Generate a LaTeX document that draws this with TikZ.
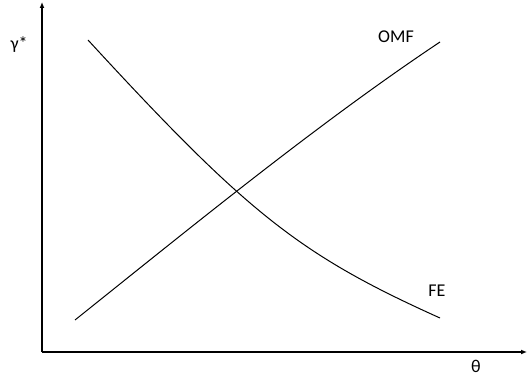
\documentclass[tikz,border=0pt]{standalone}
\usepackage{fontspec}
\setmainfont{Carlito}
\usetikzlibrary{arrows.meta}

\begin{document}
\begin{tikzpicture}[
  x=1pt,y=-1pt,
  axis/.style={line width=1.4pt,-{Latex[length=6pt,width=5pt]}},
  curve/.style={line width=1pt},
  lbl/.style={font=\fontsize{18}{20}\selectfont,inner sep=0pt}
]
\useasboundingbox (0,0) rectangle (527,379);
\coordinate (origin) at (42,352);
\coordinate (ytop) at (42,2);
\coordinate (xend) at (527,352);
\draw[axis] (origin) -- (ytop);
\draw[axis] (origin) -- (xend);
\node[lbl] (gamma) at (19,45) {γ*};
\node[lbl] (theta) at (476,366) {θ};
% curves
\coordinate (omfA) at (75,320);
\coordinate (omfB) at (440,42);
\coordinate (feA) at (88,40);
\coordinate (feB) at (440,318);
\draw[curve] (omfA) .. controls (195,224) and (320,122) .. (omfB);
\draw[curve] (feA) .. controls (248,214) and (300,255) .. (feB);
\node[lbl] (omf) at (396,37) {OMF};
\node[lbl] (fe) at (437,291) {FE};
\end{tikzpicture}
\end{document}
